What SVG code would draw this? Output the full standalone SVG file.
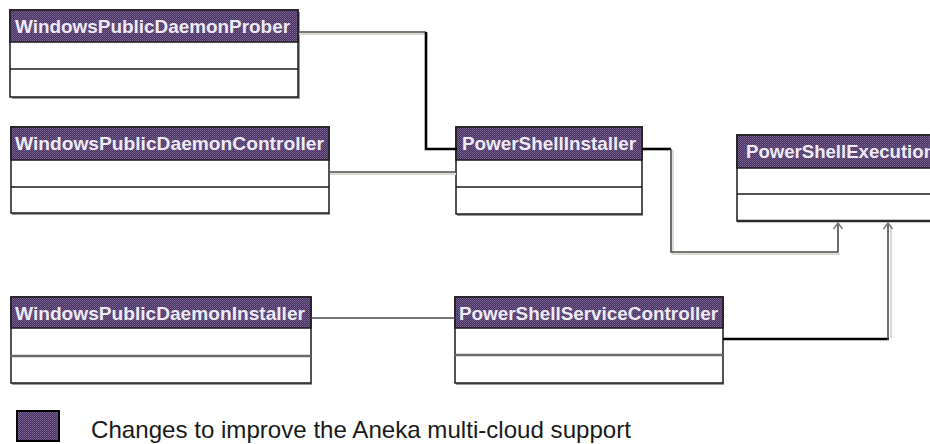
<svg xmlns="http://www.w3.org/2000/svg" width="930" height="444" viewBox="0 0 930 444">
  <defs>
    <pattern id="hatch" width="2" height="2" patternUnits="userSpaceOnUse">
      <rect width="2" height="2" fill="#46315f"/>
      <rect x="0" y="0" width="1" height="1" fill="#7c6796"/>
      <rect x="1" y="1" width="1" height="1" fill="#6a5484"/>
    </pattern>
    <marker id="open" markerWidth="12" markerHeight="12" refX="0" refY="0" viewBox="-7 -6 8 12" orient="auto" markerUnits="userSpaceOnUse">
      <path d="M-6,-4.5 L0,0 L-6,4.5" fill="none" stroke="#7a7a7a" stroke-width="1.5"/>
    </marker>
    <style>
      .box { fill: #ffffff; stroke: #1a1a1a; stroke-width: 1.5; }
      .head { fill: url(#hatch); stroke: #1a1a1a; stroke-width: 1.5; }
      .div { stroke: #1a1a1a; stroke-width: 1.6; }
      .div2 { stroke: #6a6a6a; stroke-width: 2.5; }
      .shadow { stroke: #9a9a9a; stroke-width: 2; fill: none; }
      .title { font-family: "Liberation Sans", Arial, sans-serif; font-size: 19px; font-weight: bold; fill: #eeeaf3; }
      .legend { font-family: "Liberation Sans", Arial, sans-serif; font-size: 24px; fill: #1a1a1a; }
      .c-gray { fill: none; stroke: #4a4a4a; stroke-width: 1.6; }
      .c-black { fill: none; stroke: #000000; stroke-width: 2.6; }
      .c-light { fill: none; stroke: #dcdcd4; stroke-width: 2; }
    </style>
  </defs>

  <rect width="930" height="444" fill="#ffffff"/>

  <g id="WindowsPublicDaemonProber">
    <polyline class="shadow" points="299,12 299,98 12,98"/>
    <rect class="box" x="10" y="10" width="288" height="87"/>
    <rect class="head" x="10" y="10" width="288" height="32"/>
    <line class="div" x1="10" y1="69" x2="298" y2="69"/>
    <text class="title" x="15" y="33" textLength="275" lengthAdjust="spacingAndGlyphs">WindowsPublicDaemonProber</text>
  </g>

  <g id="WindowsPublicDaemonController">
    <polyline class="shadow" points="12,214 330,214"/>
    <rect class="box" x="11" y="127" width="318" height="86"/>
    <rect class="head" x="11" y="127" width="318" height="33"/>
    <line class="div" x1="11" y1="187" x2="329" y2="187"/>
    <text class="title" x="15" y="150" textLength="309" lengthAdjust="spacingAndGlyphs">WindowsPublicDaemonController</text>
  </g>

  <g id="PowerShellInstaller">
    <polyline class="shadow" points="457,215 643,215"/>
    <rect class="box" x="456" y="127" width="186" height="87"/>
    <rect class="head" x="456" y="127" width="186" height="33"/>
    <line class="div" x1="456" y1="187" x2="642" y2="187"/>
    <text class="title" x="462" y="150" textLength="174" lengthAdjust="spacingAndGlyphs">PowerShellInstaller</text>
  </g>

  <g id="PowerShellExecution">
    <line class="shadow" x1="739" y1="168" x2="739" y2="221"/>
    <rect class="box" x="737" y="135" width="210" height="86"/>
    <rect class="head" x="737" y="135" width="210" height="33"/>
    <line class="div" x1="737" y1="194" x2="947" y2="194"/>
    <line x1="737" y1="221" x2="947" y2="221" stroke="#2a2a2a" stroke-width="2.5"/>
    <text class="title" x="746" y="158" textLength="189" lengthAdjust="spacingAndGlyphs">PowerShellExecution</text>
  </g>

  <g id="WindowsPublicDaemonInstaller">
    <polyline class="shadow" points="12,384 312,384"/>
    <rect class="box" x="11" y="297" width="300" height="86"/>
    <rect class="head" x="11" y="297" width="300" height="31"/>
    <line class="div2" x1="11" y1="356" x2="311" y2="356"/>
    <text class="title" x="15" y="320" textLength="290" lengthAdjust="spacingAndGlyphs">WindowsPublicDaemonInstaller</text>
  </g>

  <g id="PowerShellServiceController">
    <polyline class="shadow" points="456,384 724,384"/>
    <rect class="box" x="455" y="297" width="268" height="86"/>
    <rect class="head" x="455" y="297" width="268" height="31"/>
    <line class="div2" x1="455" y1="355" x2="723" y2="355"/>
    <text class="title" x="459" y="320" textLength="259" lengthAdjust="spacingAndGlyphs">PowerShellServiceController</text>
  </g>

  <g id="connectors">
    <line class="c-light" x1="299" y1="34" x2="426" y2="34"/>
    <line class="c-gray" x1="298" y1="32" x2="426" y2="32"/>
    <polyline class="c-black" points="426,32 426,149 457,149"/>
    <line class="c-light" x1="330" y1="174" x2="456" y2="174"/>
    <line class="c-gray" x1="329" y1="172" x2="457" y2="172"/>
    <line class="c-black" x1="642" y1="149" x2="671" y2="149"/>
    <polyline class="c-light" points="673,150 673,254 840,254"/>
    <polyline class="c-gray" points="671,149 671,252 838,252 838,223" marker-end="url(#open)"/>
    <line class="c-gray" x1="311" y1="318" x2="455" y2="318" stroke-width="2"/>
    <line class="c-light" x1="891" y1="225" x2="891" y2="338"/>
    <line class="c-black" x1="723" y1="339" x2="889" y2="339"/>
    <polyline class="c-gray" points="888,340 888,223" stroke-width="2" marker-end="url(#open)"/>
  </g>

  <g id="legend">
    <rect x="17" y="411" width="42" height="30" fill="url(#hatch)" stroke="#000000" stroke-width="2"/>
    <text class="legend" x="91" y="438" textLength="540" lengthAdjust="spacingAndGlyphs">Changes to improve the Aneka multi-cloud support</text>
  </g>
</svg>
